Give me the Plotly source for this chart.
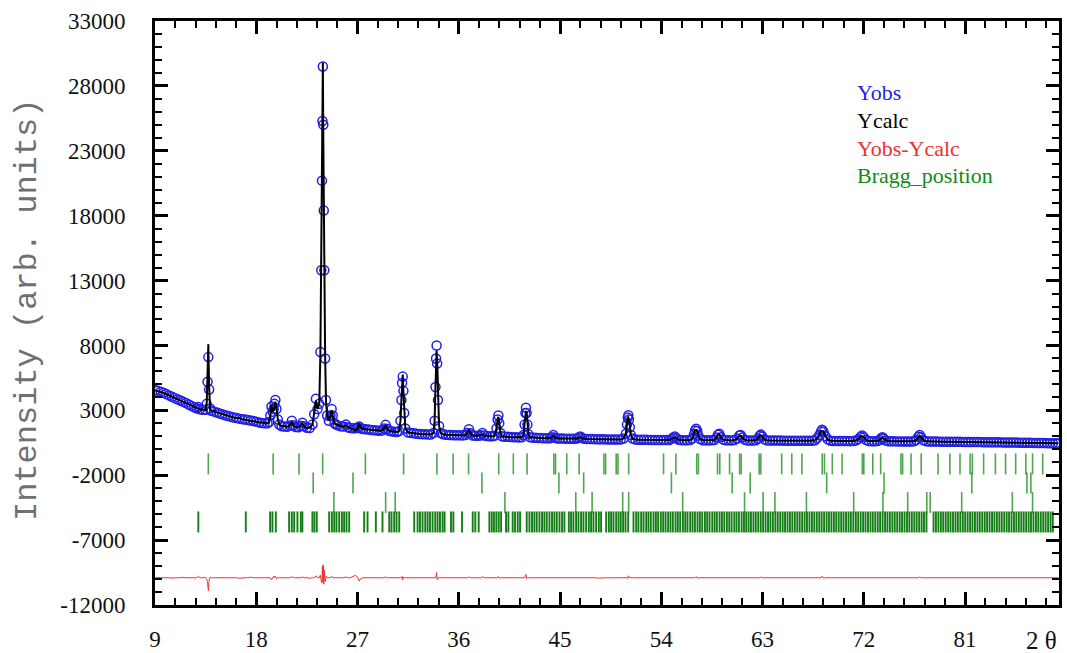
import plotly.graph_objects as go

# ---------------- data ----------------
# observed pattern: 2theta (deg) and intensity (counts)
two_theta = [
    9.0, 9.25, 9.5, 9.75, 10.0, 10.25, 10.5, 10.75, 11.0, 11.25, 11.5, 11.75, 12.0, 12.25, 12.5, 12.7, 12.85, 13.0, 13.25, 13.5,
    13.6, 13.67, 13.74, 13.81, 13.9,
    14.0, 14.25, 14.5, 14.75, 15.0, 15.25, 15.5, 15.75, 16.0, 16.25, 16.5, 16.75, 17.0, 17.25, 17.5, 17.75, 18.0, 18.25, 18.5, 18.75, 19.0,
    19.15, 19.25, 19.35, 19.45, 19.55, 19.62, 19.7, 19.8, 19.92, 20.05,
    20.25, 20.5, 20.75, 21.0, 21.16, 21.3, 21.5, 21.75, 21.95, 22.1, 22.25, 22.5, 22.75, 23.0,
    23.15, 23.3, 23.45, 23.6, 23.7, 23.78, 23.84, 23.88, 23.92, 23.96, 24.0, 24.05, 24.12, 24.2, 24.3, 24.45, 24.6, 24.7, 24.8, 24.95,
    25.1, 25.25, 25.5, 25.75, 25.97, 26.15, 26.35, 26.6, 26.8, 27.0, 27.15, 27.3, 27.5, 27.75, 28.0, 28.25, 28.5, 28.75, 29.0, 29.2,
    29.35, 29.5, 29.65, 29.8, 30.0, 30.25, 30.5, 30.7,
    30.82, 30.9, 30.96, 31.02, 31.08, 31.15, 31.25, 31.5,
    31.75, 32.0, 32.25, 32.5, 32.75, 33.0, 33.25, 33.5, 33.75,
    33.85, 33.93, 33.98, 34.03, 34.08, 34.15, 34.25, 34.4,
    34.6, 34.85, 35.1, 35.35, 35.6, 35.85, 36.1, 36.35, 36.6, 36.75, 36.9, 37.05, 37.25, 37.5, 37.75, 37.95, 38.1, 38.25, 38.5, 38.75,
    39.0, 39.2, 39.35, 39.45, 39.52, 39.6, 39.7, 39.85, 40.1, 40.35, 40.6, 40.85, 41.1, 41.35, 41.6, 41.75, 41.85, 41.92, 41.97, 42.03,
    42.1, 42.2, 42.35, 42.6, 42.85, 43.1, 43.35, 43.6, 43.85, 44.1, 44.25, 44.4, 44.55, 44.75, 45.0, 45.25, 45.5, 45.75, 46.0, 46.25,
    46.5, 46.65, 46.8, 46.95, 47.15, 47.4, 47.65, 47.9, 48.15, 48.4, 48.65, 48.9, 49.15, 49.4, 49.65, 49.9, 50.15, 50.4, 50.65, 50.85,
    50.95, 51.02, 51.07, 51.13, 51.2, 51.3, 51.45, 51.7, 51.95, 52.2, 52.45, 52.7, 52.95, 53.2, 53.45, 53.7, 53.95, 54.2, 54.45, 54.7,
    54.9, 55.05, 55.2, 55.35, 55.55, 55.8, 56.05, 56.3, 56.55, 56.75, 56.9, 57.0, 57.1, 57.2, 57.3, 57.45, 57.7, 57.95, 58.2, 58.45,
    58.7, 58.9, 59.05, 59.15, 59.3, 59.5, 59.75, 60.0, 60.25, 60.5, 60.75, 60.95, 61.05, 61.2, 61.4, 61.65, 61.9, 62.15, 62.4, 62.6,
    62.75, 62.85, 62.97, 63.15, 63.4, 63.65, 63.9, 64.15, 64.4, 64.65, 64.9, 65.15, 65.4, 65.65, 65.9, 66.15, 66.4, 66.65, 66.9, 67.15,
    67.4, 67.65, 67.85, 68.05, 68.2, 68.3, 68.42, 68.6, 68.8, 69.05, 69.3, 69.55, 69.8, 70.05, 70.3, 70.55, 70.8, 71.05, 71.3, 71.5,
    71.7, 71.85, 72.0, 72.2, 72.45, 72.7, 72.95, 73.2, 73.4, 73.55, 73.65, 73.78, 73.95, 74.2, 74.45, 74.7, 74.95, 75.2, 75.45, 75.7,
    75.95, 76.2, 76.45, 76.65, 76.85, 76.97, 77.1, 77.3, 77.55, 77.8, 78.05, 78.3, 78.55, 78.8, 79.05, 79.3, 79.55, 79.8, 80.05, 80.3,
    80.55, 80.8, 81.05, 81.3, 81.55, 81.8, 82.05, 82.3, 82.55, 82.8, 83.05, 83.3, 83.55, 83.8, 84.05, 84.3, 84.55, 84.8, 85.05, 85.3,
    85.55, 85.8, 86.05, 86.3, 86.55, 86.8, 87.05, 87.3, 87.55, 87.8, 88.05, 88.3, 88.55, 88.8, 89.05, 89.3,
]

y_obs = [
    4560, 4500, 4440, 4350, 4250, 4150, 4050, 3950, 3860, 3760, 3660, 3560, 3450, 3340, 3230, 3150, 3250, 3080, 3040, 3050,
    3500, 5200, 7100, 4600, 3150,
    2970, 2900, 2830, 2760, 2690, 2620, 2560, 2500, 2450, 2400, 2360, 2320, 2290, 2260, 2220, 2170, 2120, 2070, 2030, 2000, 2010,
    2100, 2600, 3300, 2900, 3100, 3500, 3800, 3100, 2300, 1900,
    1780, 1750, 1740, 1830, 2200, 1850, 1720, 1700, 1820, 2050, 1780, 1650, 1640, 1900,
    2700, 3900, 3100, 3500, 7500, 13800, 20700, 25300, 29500, 25000, 18400, 13800, 7000, 3800, 2600, 2200, 2600, 3100, 2600, 2000,
    1900, 1840, 1780, 1760, 1900, 1700, 1640, 1610, 1620, 1650, 1760, 1600, 1560, 1540, 1520, 1490, 1460, 1440, 1420, 1460,
    1600, 1880, 1580, 1430, 1380, 1350, 1330, 1400,
    2200, 3800, 5100, 5600, 4500, 2800, 1600, 1290,
    1260, 1230, 1200, 1180, 1165, 1155, 1145, 1140, 1250,
    2200, 4800, 7000, 8000, 6600, 3800, 1800, 1250,
    1150, 1120, 1105, 1095, 1085, 1078, 1072, 1068, 1090, 1250, 1540, 1230, 1060, 1045, 1035, 1080, 1250, 1060, 1015, 1005,
    995, 1050, 1600, 2300, 2600, 2000, 1250, 1000, 965, 955, 945, 935, 925, 915, 930, 1100, 1900, 2800, 3200, 2800,
    1900, 1150, 920, 895, 880, 870, 860, 852, 845, 850, 920, 1100, 910, 835, 828, 822, 817, 812, 808, 805,
    830, 900, 980, 880, 810, 797, 790, 785, 780, 775, 770, 766, 762, 758, 754, 750, 747, 760, 830, 1200,
    1900, 2450, 2620, 2300, 1700, 1100, 820, 745, 738, 733, 729, 726, 722, 719, 716, 713, 710, 708, 707, 720,
    800, 900, 980, 850, 730, 702, 699, 696, 710, 820, 1150, 1450, 1580, 1400, 1050, 790, 700, 692, 689, 688,
    720, 900, 1120, 1190, 920, 740, 690, 686, 685, 705, 820, 1060, 1100, 900, 740, 684, 681, 679, 700, 820,
    1050, 1130, 980, 760, 685, 677, 674, 671, 669, 667, 665, 663, 661, 659, 657, 655, 653, 651, 649, 647,
    660, 700, 850, 1100, 1380, 1500, 1350, 1000, 760, 660, 640, 636, 634, 632, 630, 628, 626, 630, 680, 780,
    950, 1060, 920, 720, 630, 620, 617, 630, 720, 850, 920, 820, 680, 618, 613, 610, 608, 606, 604, 602,
    601, 600, 620, 720, 960, 1100, 930, 700, 610, 597, 594, 591, 589, 586, 584, 582, 579, 577, 575, 573,
    571, 569, 566, 564, 561, 559, 556, 553, 550, 547, 544, 541, 538, 535, 532, 529, 526, 523, 520, 517,
    514, 510, 506, 502, 498, 494, 490, 486, 482, 478, 475, 471, 468, 465, 462, 460,
]

# refinement residual (Yobs - Ycalc) at the points where it departs from zero
residual_points = [
    (9.5, 40), (10.5, -30), (11.5, 35), (12.5, -40), (12.85, 110), (13.5, 40), (13.6, -120), (13.67, -300),
    (13.74, -1000), (13.81, -200), (13.9, 60), (15.5, 30), (16.5, -40), (17.5, 45), (18.5, -35),
    (19.35, -150), (19.55, 110), (19.7, 130), (19.8, -80), (20.5, -30), (21.16, 80), (22.1, 60), (22.75, -40),
    (23.3, 150), (23.7, 200), (23.78, -250), (23.84, -400), (23.88, 900), (23.92, -300), (23.96, 1000),
    (24.0, -500), (24.05, 600), (24.12, -300), (24.2, 120), (24.7, 120), (25.25, -40), (25.97, 60),
    (26.6, 90), (26.8, 180), (27.0, 60), (27.15, -260), (27.3, -60), (28.25, 30), (29.5, 70), (30.25, -30),
    (30.96, 100), (31.02, -150), (31.08, 60), (32.5, 30), (33.98, 150), (34.03, 400), (34.08, -150),
    (35.35, 30), (36.9, 60), (38.1, 80), (39.52, 100), (39.6, -40), (40.6, 25), (41.92, 120), (41.97, 250),
    (42.03, -60), (44.4, 50), (46.8, 40), (48.4, -25), (51.02, -60), (51.07, 150), (51.13, 40), (55.2, 40),
    (57.1, 90), (57.2, -40), (59.15, 40), (61.05, 50), (62.85, 60), (65.4, 20), (68.3, 120), (68.42, -40),
    (71.85, 50), (73.65, 30), (76.97, 60), (80.3, 20), (84.3, -20),
]

# Bragg reflection positions (2theta) for the four refined phases
bragg_phase1 = [
    13.74, 19.5, 21.8, 23.9, 27.7, 31.1, 34.06, 35.5, 36.87, 39.55, 40.85, 42.07, 44.45, 44.6, 45.6, 46.7,
    48.9, 49.05, 49.99, 50.15, 51.1, 54.2, 55.3, 57.15, 57.3, 59.0, 59.2, 60.07, 60.96, 61.1, 62.7, 62.85,
    64.7, 65.6, 66.5, 68.3, 68.5, 69.2, 70.07, 71.87, 72.0, 72.8, 73.5, 75.3, 75.45, 76.2, 77.1, 78.6,
    79.65, 80.55, 81.45, 81.65, 82.65, 83.7, 84.6, 85.5, 86.4, 87.0, 87.9,
]
bragg_phase2 = [23.06, 26.6, 38.06, 44.9, 47.1, 54.9, 60.3, 61.9, 68.7, 73.8, 81.6, 86.5, 86.85]
bragg_phase3 = [
    24.9, 29.5, 30.35, 40.1, 46.4, 47.85, 50.57, 51.1, 55.9, 61.4, 63.05, 64.1, 66.9, 71.1, 73.7, 75.9,
    77.6, 77.9, 80.7, 85.2, 87.0,
]
bragg_phase4 = [
    12.85, 17.07, 19.23, 19.44, 19.74, 20.92, 21.16, 21.37, 21.66, 21.96, 22.1, 22.99, 23.17, 23.38,
    24.48, 24.72, 24.93, 25.13, 25.37, 25.61, 25.81, 26.02, 26.26, 27.59, 27.89, 28.63, 29.22,
    29.82, 30.02, 30.26, 30.47, 30.71, 32.04, 32.34, 32.55, 32.78, 33.02, 33.23, 33.44, 33.67, 33.91,
    34.12, 34.33, 34.56, 34.74, 35.31, 35.52, 36.29, 37.24, 37.47, 37.77, 38.72, 38.93, 39.13, 39.34,
    39.55, 39.76, 40.2, 40.41, 40.79, 41.0, 41.24, 41.45, 42.04, 42.28, 42.51, 42.72, 42.93, 43.17,
    43.4, 43.61, 43.82, 44.06, 44.29, 44.5, 44.71, 44.95, 45.18, 45.39, 45.78, 45.98, 46.19, 46.43,
    46.64, 46.87, 47.08, 47.32, 47.56, 47.76, 47.97, 48.21, 48.45, 48.65, 49.1, 49.34, 49.54, 49.75,
    49.99, 50.2, 50.4, 50.61, 50.82, 51.06, 51.53, 51.77, 51.97, 52.21, 52.42, 52.66, 52.86, 53.07,
    53.31, 53.52, 53.72, 53.96, 54.17, 54.38, 54.61, 54.82, 55.03, 55.27, 55.47, 55.68, 55.92, 56.13,
    56.33, 56.57, 56.78, 56.99, 57.22, 57.43, 57.64, 57.88, 58.08, 58.29, 58.53, 58.74, 58.94, 59.18,
    59.39, 59.6, 59.83, 60.04, 60.25, 60.49, 60.69, 60.9, 61.14, 61.35, 61.55, 61.76, 61.97, 62.19,
    62.4, 62.62, 62.84, 63.05, 63.27, 63.49, 63.7, 63.92, 64.14, 64.35, 64.57, 64.79, 65.0, 65.22,
    65.44, 65.65, 65.87, 66.09, 66.3, 66.52, 66.74, 66.95, 67.17, 67.39, 67.6, 67.82, 68.04, 68.25,
    68.47, 68.69, 68.9, 69.12, 69.34, 69.55, 69.77, 69.99, 70.2, 70.42, 70.64, 70.85, 71.07, 71.29,
    71.5, 71.72, 71.94, 72.15, 72.37, 72.59, 72.8, 73.02, 73.24, 73.45, 73.67, 73.89, 74.1, 74.32,
    74.54, 74.75, 74.97, 75.19, 75.4, 75.62, 75.84, 76.05, 76.27, 76.49, 76.7, 76.92, 77.14, 77.35,
    77.57, 78.2, 78.41, 78.63, 78.85, 79.06, 79.28, 79.5, 79.71, 79.93, 80.15, 80.36, 80.58, 80.8,
    81.01, 81.23, 81.45, 81.66, 81.88, 82.1, 82.31, 82.53, 82.75, 82.96, 83.18, 83.4, 83.61, 83.83,
    84.05, 84.26, 84.48, 84.7, 84.91, 85.13, 85.35, 85.56, 85.78, 86.0, 86.21, 86.43, 86.65, 86.86,
    87.08, 87.3, 87.51, 87.73, 87.95, 88.16, 88.38, 88.6, 88.8,
]

y_tick_values = [-12000, -7000, -2000, 3000, 8000, 13000, 18000, 23000, 28000, 33000]
x_tick_values = [9, 18, 27, 36, 45, 54, 63, 72, 81]

legend_labels = ["Yobs", "Ycalc", "Yobs-Ycalc", "Bragg_position"]

# ---------------- derived series ----------------
DIFF_OFFSET = -9900
residual = {round(t, 2): r for t, r in residual_points}
y_calc = [o - residual.get(round(t, 2), 0) for t, o in zip(two_theta, y_obs)]
y_diff = [o - c + DIFF_OFFSET for o, c in zip(y_obs, y_calc)]

# ---------------- styling ----------------
SERIF = "Liberation Serif, Times New Roman, serif"
MONO = "Liberation Mono, Courier New, monospace"
BLUE = "#1f1fe6"
RED = "#f03030"
GREEN = "#138a13"
DARK_GREEN = "#0a780a"

# (positions, row centre, colour, opacity, stroke width)
BRAGG_ROWS = [
    (bragg_phase1, -1130, GREEN, 0.75, 1.6),
    (bragg_phase2, -2590, GREEN, 0.75, 1.6),
    (bragg_phase3, -4110, GREEN, 0.75, 1.6),
    (bragg_phase4, -5600, DARK_GREEN, 0.95, 1.9),
]
BRAGG_TICK_SIZE = 15  # line-ns marker, drawn about 21 px tall

fig = go.Figure()

for positions, row_y, col, alpha, lw in BRAGG_ROWS:
    fig.add_trace(go.Scatter(
        x=positions, y=[row_y] * len(positions), mode="markers",
        marker=dict(symbol="line-ns", size=BRAGG_TICK_SIZE, color=col,
                    line=dict(color=col, width=lw)),
        opacity=alpha, showlegend=False, hoverinfo="x",
    ))

fig.add_trace(go.Scatter(
    x=two_theta, y=y_diff, mode="lines",
    line=dict(color=RED, width=1), showlegend=False,
))

fig.add_trace(go.Scatter(
    x=two_theta, y=y_obs, mode="markers",
    marker=dict(symbol="circle-open", size=9, color=BLUE, line=dict(color=BLUE, width=1.5)),
    showlegend=False,
))

fig.add_trace(go.Scatter(
    x=two_theta, y=y_calc, mode="lines",
    line=dict(color="black", width=2), showlegend=False,
))

axis_common = dict(
    showline=True, linewidth=3, linecolor="black", mirror="ticks",
    ticks="inside", ticklen=13, tickwidth=3, tickcolor="black",
    showgrid=False, zeroline=False, automargin=False,
    tickfont=dict(family=SERIF, size=23, color="#111111"),
)

fig.update_xaxes(
    range=[9, 89.35], tickvals=x_tick_values, ticktext=[str(v) for v in x_tick_values],
    minor=dict(ticks="inside", ticklen=7, tickwidth=2, dtick=1.8, tick0=9, tickcolor="black"),
    ticklabelstandoff=11,
    **axis_common,
)
fig.update_yaxes(
    range=[-12000, 33000], tickvals=y_tick_values, ticktext=[str(v) for v in y_tick_values],
    minor=dict(ticks="inside", ticklen=7, tickwidth=2, dtick=1000, tick0=-12000, tickcolor="black"),
    ticklabelstandoff=22,
    **axis_common,
)

legend_colors = [BLUE, "black", RED, GREEN]
legend_y = [0.877, 0.829, 0.781, 0.735]
annotations = [
    dict(text=lbl, x=0.774, y=ly, xref="paper", yref="paper", xanchor="left", yanchor="middle",
         showarrow=False, font=dict(family=SERIF, size=22, color=col))
    for lbl, col, ly in zip(legend_labels, legend_colors, legend_y)
]
annotations.append(dict(
    text="Intensity (arb. units)", textangle=-90, x=-0.1416, y=0.505,
    xref="paper", yref="paper", xanchor="center", yanchor="middle", showarrow=False,
    font=dict(family=MONO, size=32, color="#707070"),
))
annotations.append(dict(
    text="2 θ", x=0.981, y=-0.06, xref="paper", yref="paper", xanchor="center", yanchor="middle",
    showarrow=False, font=dict(family=SERIF, size=25, color="#111111"),
))

fig.update_layout(
    width=1067, height=653,
    margin=dict(l=155, r=8, t=21, b=48),
    paper_bgcolor="white", plot_bgcolor="white",
    annotations=annotations,
    showlegend=False,
)

fig.write_html("out.html")
